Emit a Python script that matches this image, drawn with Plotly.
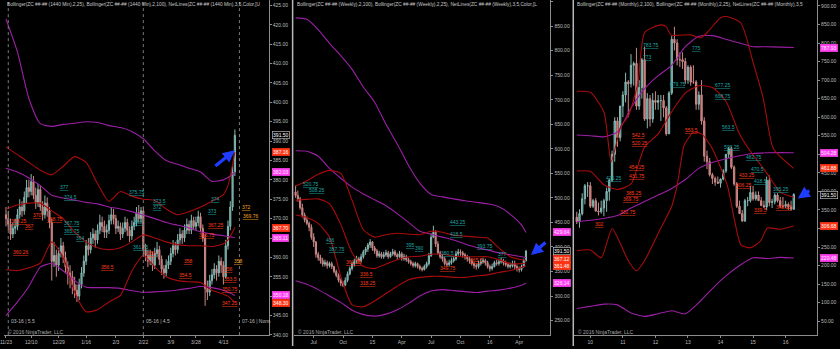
import plotly.graph_objects as go

W, H = 840, 349
FONT = "Liberation Sans"

# ---------------- Panel 1 : daily (1440 Min) ----------------
p1_open = [371, 370, 368.5, 366, 367.5, 368, 371, 373, 372, 375.5,
           378, 377, 379.5, 376, 374, 377.5, 373, 371, 374, 372,
           369, 359, 360.5, 358, 361, 363, 360, 357.5, 356, 355,
           353, 351.5, 350, 353, 356, 359, 363, 362, 365, 366,
           364.5, 367, 369, 368, 366.5, 367, 369.5, 371, 370, 367.5,
           368, 366, 367.5, 369, 367, 365.5, 368, 369, 371.5, 370,
           372, 362, 360.5, 359, 360.5, 358, 361, 362, 359.5, 357,
           356, 358, 359, 361, 363, 362, 364.5, 366, 365, 367,
           368.5, 367, 369.5, 368, 369, 370.5, 367.5, 365, 352, 351,
           354, 355.5, 357, 356, 359, 358, 355, 363, 368, 373, 382]
p1_high = [373, 372, 370, 369, 370, 372.5, 375, 374.5, 377, 380,
           380, 381.5, 381, 378, 379, 378.5, 374.5, 376, 375.5, 373,
           370, 364, 362, 362.5, 365, 364, 361.5, 359, 358, 356.5,
           355, 353, 354.5, 357.5, 360.5, 364.5, 365, 366.5, 367.5, 367,
           368.5, 371, 370.5, 369.5, 368.5, 371, 373, 372.5, 371, 369.5,
           369, 369, 370.5, 370, 368, 369.5, 370.5, 373, 373.5, 373,
           373, 363.5, 362, 362, 361.5, 362.5, 364, 363, 360.5, 358,
           359.5, 360.5, 362.5, 364.5, 364, 366, 367.5, 367, 368.5, 370,
           369.5, 371, 370.5, 370.5, 372, 371.5, 368.5, 366, 354, 355.5,
           357, 358.5, 358, 360.5, 360, 359, 364.5, 369.5, 374.5, 383.5, 393]
p1_low = [368, 367, 364.5, 365, 366, 367, 370, 370.5, 371, 374,
          375.5, 376, 375, 372.5, 373, 372, 369.5, 370, 370.5, 367.5,
          354, 357.5, 355, 356.5, 360, 358.5, 356, 353, 352, 350.5,
          349.5, 348.5, 349, 352, 355, 358, 360.5, 361, 363.5, 362.5,
          363.5, 366, 366.5, 365, 365, 366, 368.5, 368.5, 366, 366.5,
          364.5, 365, 366.5, 365.5, 364, 364.5, 367, 368, 369, 369,
          360.5, 359, 357.5, 358, 356.5, 357, 360, 358, 355.5, 354.5,
          355, 357, 358, 360, 360.5, 361, 363.5, 363.5, 364, 366,
          366, 366, 367, 367, 368, 366.5, 364, 347.5, 349, 350,
          353, 354.5, 354, 355, 356, 353, 354.5, 362, 367, 372, 381]
p1_close = [370, 368.5, 366, 367.5, 368, 371, 373, 372, 375.5, 378,
            377, 379.5, 376, 374, 377.5, 373, 371, 374, 372, 369,
            359, 360.5, 358, 361, 363, 360, 357.5, 356, 355, 353,
            351.5, 350, 353, 356, 359, 363, 362, 365, 366, 364.5,
            367, 369, 368, 366.5, 367, 369.5, 371, 370, 367.5, 368,
            366, 367.5, 369, 367, 365.5, 368, 369, 371.5, 370, 372,
            362, 360.5, 359, 360.5, 358, 361, 362, 359.5, 357, 356,
            358, 359, 361, 363, 362, 364.5, 366, 365, 367, 368.5,
            367, 369.5, 368, 369, 370.5, 367.5, 365, 352, 351, 354,
            355.5, 357, 356, 359, 358, 355, 363, 368, 373, 382, 391.5]
p1_tick_at = [0, 11, 23, 35, 48, 60, 72, 83, 95]
p1_tick_text = ["11/23", "12/10", "12/29", "1/16", "2/3", "2/22", "3/9", "3/28", "4/13"]
p1_band_at = [0, 5, 10, 15, 20, 25, 30, 35, 40, 45, 50, 55, 60, 65, 70, 75, 80, 85, 90, 95, 97, 98, 99, 100]
p1_bb100_up = [421.5, 413, 401, 394.5, 393.8, 394.3, 394.6, 395, 394.8, 394, 393.5, 392.5, 390.6, 387.5,
               385, 384, 383, 382, 379.6, 380, 380.6, 381, 381.5, 382.03]
p1_bb100_mid = [383, 382, 380.5, 378.5, 376, 375.3, 374.8, 374.2, 373.8, 373, 372.5, 371.8, 370.9, 370,
                369, 368.3, 367.6, 366.6, 366, 365.6, 365.4, 365.3, 365.2, 365.11]
p1_bb100_low = [345, 348.5, 352.5, 357.5, 358.4, 356.5, 354, 352.3, 352.2, 352.2, 352, 351.4, 351, 351.1,
                351.3, 351.6, 352, 352.5, 352.2, 351.5, 351, 350.8, 350.5, 350.18]
p1_bb25_up = [388.5, 386.5, 384.5, 382.5, 381.3, 383.5, 386, 384.5, 379, 374.5, 377, 375.8, 375, 374.7,
              372.5, 371, 371.8, 373, 374.5, 376.2, 378.5, 381, 384, 387.16]
p1_bb25_mid = [372.5, 373.5, 374, 374, 372, 370, 366.5, 364, 362.5, 362, 362.5, 364, 365.8, 365, 364,
               363.3, 363, 363, 362.8, 363.5, 364.5, 365.5, 366.5, 367.70]
p1_bb25_low = [356.8, 356.6, 357.3, 358.5, 364, 360, 351, 346, 346.5, 348.5, 350.2, 356.5, 360.5, 357.5,
               355, 354, 353.7, 353.5, 351.5, 350.5, 350, 349.5, 349, 348.30]
p1_hi_at = [23, 25, 53.5, 55.6, 64, 64, 89, 88, 25, 25, 30, 55]
p1_hi_text = ["377", "374.5", "375.75", "368", "373.5", "372", "374", "373", "367.75", "365.75", "364", "361.75"]
p1_lo_at = [11.3, 17.4, 7.8, 1.7, 88, 84, 2.6, 41, 61.3, 77.4, 75, 94.8, 94.8, 94, 94]
p1_lo_text = ["370", "368.75", "367", "368.25", "367.25", "366.75", "360.26", "356.5", "360", "358",
              "354.5", "356", "353.5", "350.75", "347.25"]
p1_proj_at = [102.5, 103, 99]
p1_proj_text = ["372", "369.76", "358"]
p1_roll_at = [1, 60, 102]
p1_roll_text = ["03-16 | 5.5", "05-16 | 4.5", "07-16 | Nons"]
p1_marks = [("391.50", 391.5, "last"), ("387.16", 387.16, "red"), ("382.03", 382.03, "mag"),
            ("367.70", 367.70, "red"), ("365.11", 365.11, "mag"), ("350.18", 350.18, "mag"),
            ("348.30", 348.30, "red")]

# ---------------- Panel 2 : weekly ----------------
p2_open = [512, 505, 498, 480, 465, 455, 448, 440, 420, 410, 385, 378, 372, 365, 368, 362, 366, 360, 350, 342,
           332, 326, 322, 332, 345, 356, 365, 370, 376, 372, 380, 390, 396, 404, 410, 398, 392, 382, 386, 380,
           384, 388, 380, 386, 390, 384, 380, 386, 376, 380, 374, 370, 366, 362, 366, 360, 356, 354, 360, 366,
           382, 420, 430, 406, 388, 380, 376, 366, 364, 368, 372, 376, 386, 390, 388, 384, 380, 376, 372, 366,
           362, 360, 366, 370, 372, 368, 360, 356, 360, 368, 366, 370, 372, 368, 364, 360, 362, 366, 360, 356,
           354, 360, 372]
p2_high = [525, 515, 502, 488, 470, 462, 452, 446, 428, 412, 390, 384, 378, 374, 372, 370, 370, 362, 354, 346,
           336, 330, 338, 350, 360, 370, 376, 382, 380, 386, 394, 400, 408, 416, 412, 402, 396, 392, 390, 390,
           394, 392, 390, 396, 394, 388, 392, 390, 386, 384, 378, 374, 370, 370, 368, 364, 360, 364, 370, 388,
           428, 443.25, 434, 412, 392, 384, 380, 372, 374, 378, 382, 392, 396, 395, 392, 388, 384, 380, 376, 370,
           366, 372, 376, 378, 376, 372, 364, 366, 372, 374, 376, 378, 376, 372, 368, 368, 372, 372, 364, 360,
           364, 376, 394]
p2_low = [500, 492, 476, 460, 450, 444, 432, 415, 400, 378, 372, 366, 360, 360, 356, 358, 355, 346, 338, 328,
          320, 318, 320, 328, 342, 352, 360, 366, 366, 368, 376, 384, 390, 398, 392, 386, 378, 378, 376, 376,
          380, 376, 378, 382, 380, 374, 378, 372, 372, 370, 366, 362, 358, 358, 356, 352, 350, 352, 356, 362,
          380, 418, 400, 384, 376, 370, 362, 360, 360, 364, 368, 372, 382, 382, 378, 374, 370, 366, 362, 356,
          354, 356, 362, 366, 362, 356, 350, 352, 358, 362, 362, 366, 362, 360, 356, 356, 358, 354, 350, 348,
          350, 358, 370]
p2_close = [505, 498, 480, 465, 455, 448, 440, 420, 410, 385, 378, 372, 365, 368, 362, 366, 360, 350, 342, 332,
            326, 322, 332, 345, 356, 365, 370, 376, 372, 380, 390, 396, 404, 410, 398, 392, 382, 386, 380, 384,
            388, 380, 386, 390, 384, 380, 386, 376, 380, 374, 370, 366, 362, 366, 360, 356, 354, 360, 366, 382,
            420, 430, 406, 388, 380, 376, 366, 364, 368, 372, 376, 386, 390, 388, 384, 380, 376, 372, 366, 362,
            360, 366, 370, 372, 368, 360, 356, 360, 368, 366, 370, 372, 368, 364, 360, 362, 366, 360, 356, 354,
            360, 372, 391.5]
p2_tick_at = [8, 21, 34, 47, 60, 73, 86, 99]
p2_tick_text = ["Jul", "Oct", "15", "Apr", "Jul", "Oct", "16", "Apr"]
p2_band_at = [0, 5, 10, 15, 20, 25, 30, 35, 40, 45, 50, 55, 60, 65, 70, 75, 80, 85, 90, 95, 100, 102]
p2_bb100_up = [867, 864, 843, 815, 790, 762, 726, 695, 650, 610, 566, 530, 507, 502, 498, 494, 491, 488, 482,
               467, 445, 429.64]
p2_bb100_mid = [596, 595, 585, 560, 540, 522, 508, 496, 484, 468, 450, 432, 426, 420, 414, 406, 399, 394, 388,
                384, 380, 377.9]
p2_bb100_low = [331, 324, 313, 300, 287, 271, 262, 259, 263, 272, 285, 300, 310, 313, 311, 309, 307, 310, 312,
                316, 322, 326.14]
p2_bb25_up = [524, 535, 548, 556, 550, 495, 435, 420, 425, 428, 426, 425, 432, 430, 424, 422, 420, 418, 398,
              380, 374, 372.76]
p2_bb25_mid = [495, 497, 498, 488, 446, 388, 360, 356, 365, 374, 380, 381, 385, 385, 381, 380, 380, 380, 374,
               366, 366, 367.12]
p2_bb25_low = [465, 460, 448, 420, 340, 282, 278, 290, 305, 320, 333, 338, 340, 340, 338, 338, 341, 343, 348,
               352, 358, 361.48]
p2_hi_at = [3, 5.7, 68, 68, 12.8, 14.5, 48.5, 52.4, 80, 89, 64]
p2_hi_text = ["520.75", "508.25", "443.25", "418.5", "406", "387.75", "395", "390", "393.75", "377", "380.5"]
p2_lo_at = [22, 28, 28, 76.6, 63.4]
p2_lo_text = ["361.25", "336.5", "318.25", "365.5", "349.75"]
p2_marks = [("429.64", 429.64, "mag"), ("391.50", 391.5, "last"), ("367.12", 367.12, "red"),
            ("361.48", 361.48, "red"), ("326.14", 326.14, "mag")]

# ---------------- Panel 3 : monthly ----------------
p3_open = [330, 318, 340, 380, 415, 415, 360, 375, 347, 345, 355, 375, 400, 430, 500, 590, 545, 630, 660, 695,
           690, 740, 745, 630, 680, 755, 595, 650, 595, 645, 640, 645, 645, 625, 555, 665, 810, 800, 755, 755,
           750, 700, 735, 695, 695, 635, 660, 590, 495, 480, 445, 435, 425, 422, 433, 455, 500, 515, 465, 420,
           360, 340, 320, 375, 375, 397, 380, 390, 375, 362, 358, 430, 370, 372, 390, 375, 360, 360, 365, 358,
           352]
p3_high = [345, 352, 395, 420, 425, 425, 380, 382, 370, 375, 380, 410, 435, 510, 600, 600, 630, 670, 720, 700,
           770, 750, 787, 700, 760, 790, 665, 660, 665, 670, 660, 660, 660, 630, 670, 820, 843.75, 810, 775, 775,
           760, 740, 740, 740, 700, 670, 700, 600, 510, 490, 450, 440, 440, 435, 460, 500, 520, 520, 470, 425,
           375, 350, 380, 385, 415, 415, 400, 400, 385, 375, 440, 443.25, 380, 395, 395, 385, 385, 375, 370, 375,
           395]
p3_low = [312, 302, 335, 365, 385, 355, 355, 345, 335, 340, 333, 345, 375, 425, 480, 520, 535, 600, 640, 600,
          680, 685, 620, 620, 650, 590, 570, 575, 585, 620, 620, 590, 600, 550, 555, 660, 780, 740, 735, 730,
          690, 690, 685, 690, 620, 620, 580, 480, 460, 440, 420, 415, 420, 410, 430, 450, 490, 460, 415, 355,
          355, 318, 318, 360, 370, 375, 375, 375, 360, 355, 350, 360, 355, 365, 370, 355, 355, 355, 350, 348,
          350]
p3_close = [318, 340, 380, 415, 415, 360, 375, 347, 345, 355, 375, 400, 430, 500, 590, 545, 630, 660, 695, 690,
            740, 745, 630, 680, 755, 595, 650, 595, 645, 640, 645, 645, 625, 555, 665, 810, 800, 755, 755, 750,
            700, 735, 695, 695, 635, 660, 590, 495, 480, 445, 435, 425, 422, 433, 455, 500, 515, 465, 420, 360,
            340, 320, 375, 375, 397, 380, 390, 375, 362, 358, 430, 370, 372, 390, 375, 360, 360, 365, 358, 352,
            391.5]
p3_tick_at = [5, 17, 29, 41, 53, 65, 77]
p3_tick_text = ["10", "11", "12", "13", "14", "15", "16"]
p3_bb100_at = [0, 5, 10, 15, 20, 25, 30, 35, 40, 45, 50, 55, 60, 65, 70, 75, 80]
p3_bb100_up = [552, 550, 547, 560, 625, 677, 712, 740, 790, 818, 820, 810, 800, 790, 790, 789, 787.93]
p3_bb100_mid = [318, 322, 327, 335, 355, 373, 390, 408, 432, 462, 478, 488, 496, 502, 504, 504.5, 504.28]
p3_bb100_low = [84, 90, 96, 94, 72, 63, 70, 78, 70, 100, 138, 172, 200, 221, 219, 222, 220.48]
p3_bb25_up_at = [0, 5, 10, 12.7, 16.3, 19, 22.6, 25, 31, 33, 34.7, 42, 45.7, 48.3, 53, 55.6, 60.5, 65, 68.8,
                 72.5, 80]
p3_bb25_up = [670, 667, 614, 480, 576, 603, 694, 828, 849, 844, 822, 822, 814, 830, 868, 871, 854, 748, 649,
              515, 461.88]
p3_bb25_mid_at = [0, 5, 10, 15, 20, 25, 30, 35, 40, 45, 50, 55, 60, 65, 70, 75, 80]
p3_bb25_mid = [455, 454, 418, 405, 420, 520, 555, 615, 665, 685, 680, 643, 555, 498, 450, 398, 384.28]
p3_bb25_low_at = [0, 5, 9, 13, 16, 19, 22, 25, 31, 35, 37, 39.5, 41, 43, 46, 50, 55.5, 58, 60.5, 64, 67.7,
                  70.3, 75, 80]
p3_bb25_low = [240, 242, 221, 300, 260, 213, 186, 213, 301, 360, 416, 523, 542, 560, 555, 515, 416, 328, 256,
               248, 266, 301, 298, 306.68]
p3_hi_at = [24, 24, 42, 50.5, 50.5, 34, 53, 53.8, 62, 64, 64.8, 72, 10.5]
p3_hi_text = ["783.75", "773", "775", "677.25", "668.75", "679.75", "563.5", "508.25", "482.75", "470.5",
              "418.5", "395.25", "426.25"]
p3_lo_at = [20, 20, 19, 19, 17.8, 16.7, 15.6, 6.4, 39.4, 59.6, 58.5, 73, 65]
p3_lo_text = ["542.5", "520.25", "454.25", "431.75", "385.25", "369.75", "332.75", "302", "553.5", "433.25",
              "406.25", "348.25", "339.5"]
p3_marks = [("787.93", 787.93, "mag"), ("504.28", 504.28, "mag"), ("461.88", 461.88, "red"),
            ("391.50", 391.5, "last"), ("306.68", 306.68, "red"), ("220.48", 220.48, "mag")]
# labels drawn hanging below their level (second label of a close pair)
hang_below = {"773", "668.75", "470.5", "366.75", "373"}

# ---------------- styling ----------------
UP_FILL, UP_LINE = "#3c9e96", "#8ab8b3"
DN_FILL, DN_LINE = "#dc6a66", "#c98a88"
PURPLE, DARKRED = "#9c1fa6", "#a80c0c"
TEAL_TXT, RED_TXT, ORANGE_TXT = "#1fa5a2", "#ff3b1a", "#f0a020"
AX = "#8c8c8c"
TXT = "#bdbdbd"

panels = [
    dict(x0=0, x1=266, xr=[-0.87, 114.8], yr=[339.95, 426.4], dtick=5),
    dict(x0=291, x1=549, xr=[-0.88, 112.8], yr=[220.3, 903.4], dtick=50),
    dict(x0=573, x1=817, xr=[-0.92, 88.6], yr=[12.5, 916], dtick=50),
]
Y_BOTTOM_PX = 338
ydom = [(H - Y_BOTTOM_PX) / H, 1.0]

fig = go.Figure()


def ax_id(k):
    return "" if k == 1 else str(k)


def add_candles(k, o, h, l, c):
    fig.add_trace(go.Candlestick(
        x=list(range(len(c))), open=o, high=h, low=l, close=c,
        xaxis="x" + ax_id(k), yaxis="y" + ax_id(k),
        increasing=dict(line=dict(color=UP_LINE, width=1), fillcolor=UP_FILL),
        decreasing=dict(line=dict(color=DN_LINE, width=1), fillcolor=DN_FILL),
        whiskerwidth=0, showlegend=False, hoverinfo="skip"))


def add_line(k, xs, ys, color):
    fig.add_trace(go.Scatter(
        x=xs, y=ys, mode="lines",
        line=dict(color=color, width=1.1, shape="spline", smoothing=0.6),
        xaxis="x" + ax_id(k), yaxis="y" + ax_id(k),
        showlegend=False, hoverinfo="skip"))


def add_netlabels(k, xs, texts, color):
    for x, t in zip(xs, texts):
        fig.add_annotation(
            x=x, y=float(t), xref="x" + ax_id(k), yref="y" + ax_id(k),
            text='<span style="text-decoration:underline dotted">%s</span>' % t,
            showarrow=False, xanchor="left", yanchor="top" if t in hang_below else "bottom",
            font=dict(family=FONT, size=5, color=color), borderpad=0)


def add_marks(k, marks):
    p = panels[k - 1]
    plot_h = Y_BOTTOM_PX
    lo, hi = p["yr"]
    placed = []
    prev = None
    for text, val, kind in sorted(marks, key=lambda m: m[1]):
        ypx = (hi - val) / (hi - lo) * plot_h
        adj = ypx if prev is None else min(ypx, prev - 7.2)
        prev = adj
        placed.append((text, val, kind, ypx - adj))
    for text, val, kind, shift in placed:
        if kind == "mag":
            bg, fg, bd = "#ff40f0", "#ffe6ff", "#ff40f0"
        elif kind == "red":
            bg, fg, bd = "#ff3414", "#ffffff", "#ff3414"
        else:
            bg, fg, bd = "#000000", "#ffffff", "#d0d0d0"
        fig.add_annotation(
            x=(p["x1"] + 3) / W, y=val, xref="paper", yref="y" + ax_id(k),
            text=text, showarrow=False, xanchor="left", yanchor="middle", yshift=shift,
            font=dict(family=FONT, size=5, color=fg), bgcolor=bg, bordercolor=bd,
            borderwidth=0.6, borderpad=0.5)


add_candles(1, p1_open, p1_high, p1_low, p1_close)
add_candles(2, p2_open, p2_high, p2_low, p2_close)
add_candles(3, p3_open, p3_high, p3_low, p3_close)

for ys in (p1_bb100_up, p1_bb100_mid, p1_bb100_low):
    add_line(1, p1_band_at, ys, PURPLE)
for ys in (p1_bb25_up, p1_bb25_mid, p1_bb25_low):
    add_line(1, p1_band_at, ys, DARKRED)
for ys in (p2_bb100_up, p2_bb100_mid, p2_bb100_low):
    add_line(2, p2_band_at, ys, PURPLE)
for ys in (p2_bb25_up, p2_bb25_mid, p2_bb25_low):
    add_line(2, p2_band_at, ys, DARKRED)
for ys in (p3_bb100_up, p3_bb100_mid, p3_bb100_low):
    add_line(3, p3_bb100_at, ys, PURPLE)
add_line(3, p3_bb25_up_at, p3_bb25_up, DARKRED)
add_line(3, p3_bb25_mid_at, p3_bb25_mid, DARKRED)
add_line(3, p3_bb25_low_at, p3_bb25_low, DARKRED)

add_netlabels(1, p1_hi_at, p1_hi_text, TEAL_TXT)
add_netlabels(1, p1_lo_at, p1_lo_text, RED_TXT)
add_netlabels(1, p1_proj_at, p1_proj_text, ORANGE_TXT)
add_netlabels(2, p2_hi_at, p2_hi_text, TEAL_TXT)
add_netlabels(2, p2_lo_at, p2_lo_text, RED_TXT)
add_netlabels(3, p3_hi_at, p3_hi_text, TEAL_TXT)
add_netlabels(3, p3_lo_at, p3_lo_text, RED_TXT)

add_marks(1, p1_marks)
add_marks(2, p2_marks)
add_marks(3, p3_marks)

for x, t in zip(p1_roll_at, p1_roll_text):
    fig.add_shape(type="line", xref="x", yref="paper", x0=x, x1=x, y0=ydom[0], y1=1,
                  line=dict(color="#7a7a7a", width=1, dash="dot"))
    fig.add_annotation(x=x, y=(H - 324) / H, xref="x", yref="paper", text=t, showarrow=False,
                       xanchor="left", yanchor="middle", xshift=1,
                       font=dict(family=FONT, size=5, color=TXT))

# blue arrows pointing at the last bar of each panel: (panel, xshift, yshift, ax, ay)
arrow_cfg = [(1, 0, -15, -21, 17), (2, 5, -4, 16, -14), (3, 4, -4, 13, -9)]
for k, xsh, ysh, ax, ay in arrow_cfg:
    closes = [p1_close, p2_close, p3_close][k - 1]
    fig.add_annotation(x=len(closes) - 1, y=closes[-1], xref="x" + ax_id(k),
                       yref="y" + ax_id(k), showarrow=True, ax=ax, ay=ay,
                       arrowhead=2, arrowsize=0.75, arrowwidth=3.2, arrowcolor="#1f3dff",
                       xshift=xsh, yshift=ysh, text="")

headers = [
    "Bollinger(ZC ##-## (1440 Min),2,25), Bollinger(ZC ##-## (1440 Min),2,100), NetLines(ZC ##-## (1440 Min),3,5,Color,[U",
    "Bollinger(ZC ##-## (Weekly),2,100), Bollinger(ZC ##-## (Weekly),2,25), NetLines(ZC ##-## (Weekly),3,5,Color,[L",
    "Bollinger(ZC ##-## (Monthly),2,100), Bollinger(ZC ##-## (Monthly),2,25), NetLines(ZC ##-## (Monthly),3,5",
]
for p, htxt in zip(panels, headers):
    fig.add_annotation(x=(p["x0"] + 1) / W, y=(H - 5) / H, xref="paper", yref="paper", text=htxt,
                       showarrow=False, xanchor="left", yanchor="middle",
                       font=dict(family=FONT, size=4.8, color="#c8c8c8"))
    fig.add_annotation(x=(p["x0"] + 2) / W, y=(H - 335) / H, xref="paper", yref="paper",
                       text="© 2016 NinjaTrader, LLC", showarrow=False, xanchor="left", yanchor="middle",
                       font=dict(family=FONT, size=5, color="#a8a8a8"))

for xs in (290, 572):
    fig.add_shape(type="line", xref="paper", yref="paper", x0=xs / W, x1=xs / W, y0=0, y1=1,
                  line=dict(color="#b8b8b8", width=1.5))

layout = dict(width=W, height=H, margin=dict(l=0, r=0, t=0, b=0),
              paper_bgcolor="black", plot_bgcolor="black", showlegend=False,
              hovermode=False)
ticks = [(p1_tick_at, p1_tick_text), (p2_tick_at, p2_tick_text), (p3_tick_at, p3_tick_text)]
for k, p in enumerate(panels, start=1):
    sx = ax_id(k)
    layout["xaxis" + sx] = dict(
        domain=[p["x0"] / W, p["x1"] / W], range=p["xr"], anchor="y" + sx,
        tickvals=ticks[k - 1][0], ticktext=ticks[k - 1][1], showgrid=False, zeroline=False,
        showline=True, linecolor=AX, linewidth=1, ticks="outside", ticklen=2, tickcolor=AX,
        tickfont=dict(family=FONT, size=5, color=TXT), rangeslider=dict(visible=False),
        ticklabeloverflow="allow", fixedrange=True)
    layout["yaxis" + sx] = dict(
        domain=ydom, range=p["yr"], anchor="x" + sx, side="right", dtick=p["dtick"], tick0=0,
        tickformat=".2f", showgrid=False, zeroline=False, showline=True, linecolor=AX, linewidth=1,
        ticks="outside", ticklen=2, tickcolor=AX, tickfont=dict(family=FONT, size=5, color=TXT),
        fixedrange=True)
fig.update_layout(**layout)

fig.write_html("out.html")
